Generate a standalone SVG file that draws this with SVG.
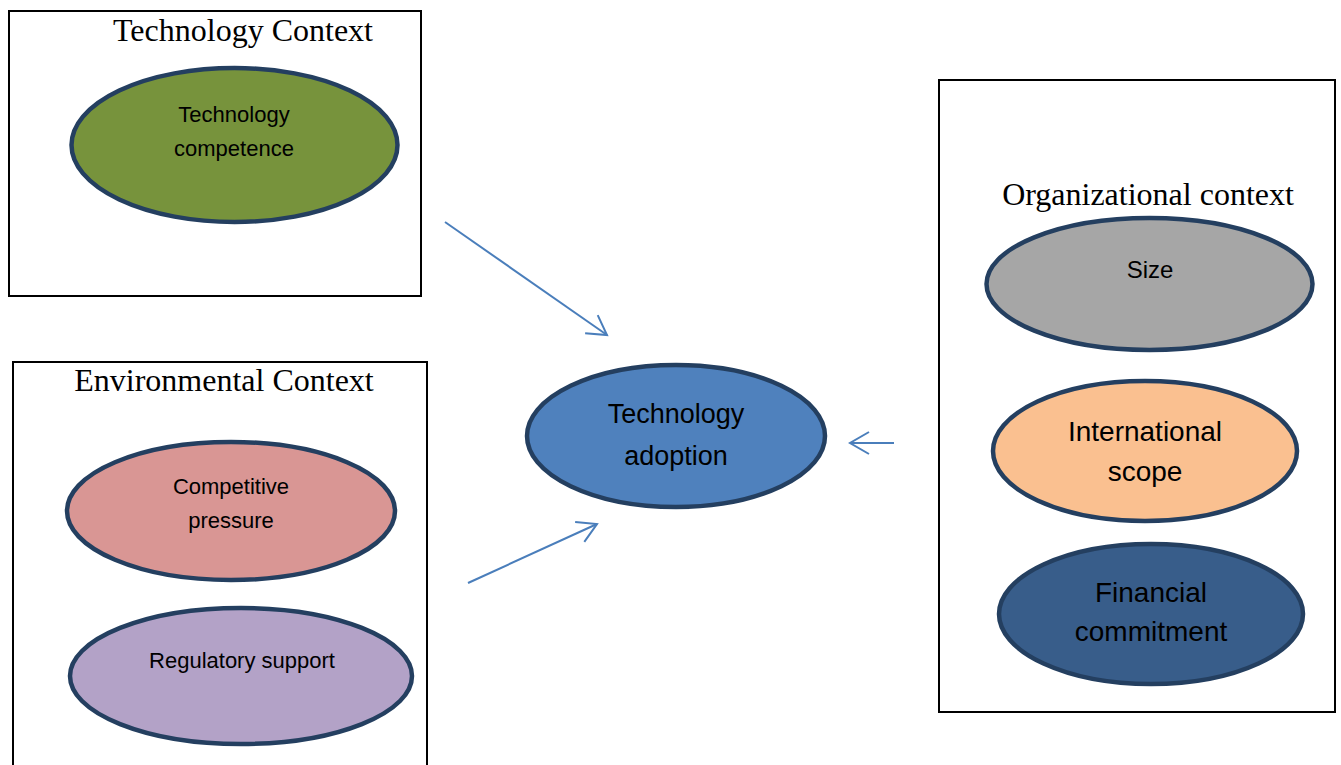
<svg xmlns="http://www.w3.org/2000/svg" width="1341" height="765" viewBox="0 0 1341 765">
<style>
.box{fill:#fff;stroke:#000;stroke-width:2}
.ctx{font-family:"Liberation Serif","Times New Roman",serif;font-size:32px;fill:#000;text-anchor:middle}
.node{stroke:#243f60;stroke-width:4.5}
.t{font-family:"Liberation Sans",Arial,sans-serif;fill:#000;text-anchor:middle}
.s{font-size:22px}
.m{font-size:27px}
.o{font-size:28px}
.con{stroke:#4a7ebb;stroke-width:2;fill:none}
</style>
<defs>
<marker id="arr" markerUnits="userSpaceOnUse" markerWidth="30" markerHeight="30" viewBox="-20 -15 30 30" refX="0" refY="0" orient="auto">
<path d="M-19,-11 L0,0 L-19,11" fill="none" stroke="#4a7ebb" stroke-width="2"/>
</marker>
</defs>
<rect width="1341" height="765" fill="#fff"/>
<g id="technology-context">
<rect class="box" x="9" y="11" width="412" height="285"/>
<text class="ctx" x="243" y="41">Technology Context</text>
</g>
<g id="technology-competence">
<ellipse class="node" cx="234.5" cy="145" rx="163" ry="77" fill="#77933c"/>
<text class="t s" x="234" y="122">Technology</text>
<text class="t s" x="234" y="156">competence</text>
</g>
<g id="environmental-context">
<rect class="box" x="13" y="362" width="414" height="420"/>
<text class="ctx" x="224" y="391">Environmental Context</text>
</g>
<g id="competitive-pressure">
<ellipse class="node" cx="231" cy="511" rx="164" ry="69" fill="#d99694"/>
<text class="t s" x="231" y="494">Competitive</text>
<text class="t s" x="231" y="528">pressure</text>
</g>
<g id="regulatory-support">
<ellipse class="node" cx="241" cy="676" rx="171" ry="68" fill="#b3a2c7"/>
<text class="t s" x="242" y="668">Regulatory support</text>
</g>
<g id="organizational-context">
<rect class="box" x="939" y="80" width="396" height="632"/>
<text class="ctx" x="1148" y="205">Organizational context</text>
</g>
<g id="size">
<ellipse class="node" cx="1149.5" cy="284" rx="163" ry="66" fill="#a6a6a6"/>
<text class="t" style="font-size:24px" x="1150" y="278">Size</text>
</g>
<g id="international-scope">
<ellipse class="node" cx="1145" cy="451" rx="152" ry="70" fill="#fac090"/>
<text class="t o" x="1145" y="441">International</text>
<text class="t o" x="1145" y="481">scope</text>
</g>
<g id="financial-commitment">
<ellipse class="node" cx="1151" cy="614" rx="152" ry="70" fill="#385d8a"/>
<text class="t o" x="1151" y="602">Financial</text>
<text class="t o" x="1151" y="641">commitment</text>
</g>
<g id="technology-adoption">
<ellipse class="node" cx="676" cy="436" rx="149" ry="71" fill="#4f81bd"/>
<text class="t m" x="676" y="423">Technology</text>
<text class="t m" x="676" y="465">adoption</text>
</g>
<g id="connectors">
<line class="con" x1="445" y1="222" x2="607" y2="335" marker-end="url(#arr)"/>
<line class="con" x1="468" y1="583" x2="597" y2="524" marker-end="url(#arr)"/>
<line class="con" x1="894" y1="443" x2="850" y2="443" marker-end="url(#arr)"/>
</g>
</svg>
